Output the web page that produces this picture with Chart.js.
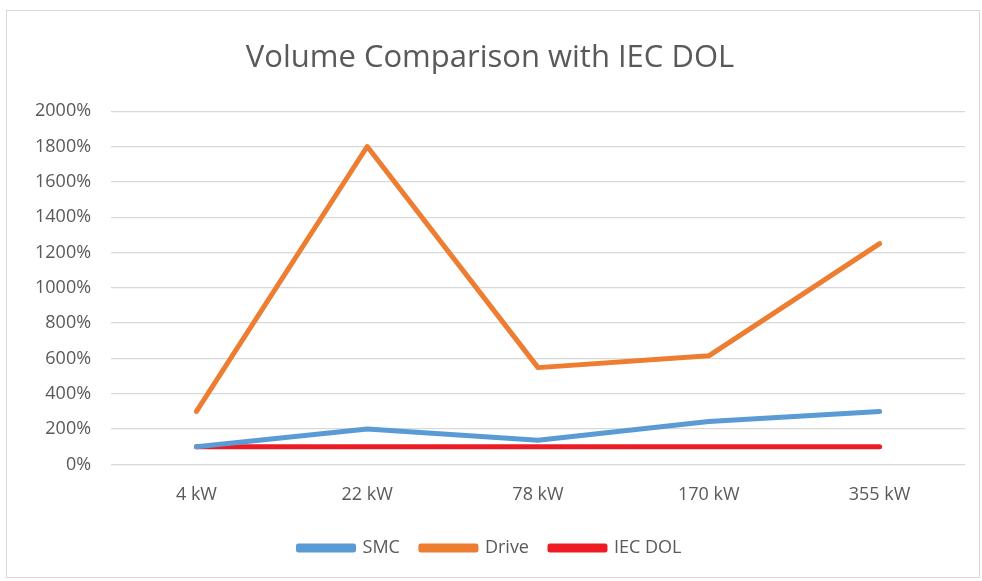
<!DOCTYPE html>
<html>
<head>
    <meta charset="UTF-8">
    <title>Volume Comparison with IEC DOL</title>
    <script src="https://cdn.jsdelivr.net/npm/chart.js"></script>
    <style>
        body { margin: 0; background: #fff; }
        #frame {
            position: absolute; left: 6px; top: 10px;
            width: 972px; height: 566px;
            border: 1px solid #d9d9d9;
        }
    </style>
</head>
<body>
    <div id="frame">
        <canvas id="volChart" width="972" height="566"></canvas>
    </div>
    <script>
        // categories and series (percent of IEC DOL volume)
        var categories = ['4 kW', '22 kW', '78 kW', '170 kW', '355 kW'];
        var smcValues = [100, 200, 137, 243, 300];
        var driveValues = [300, 1800, 548, 615, 1250];
        var dolValues = [100, 100, 100, 100, 100];
        var yTicks = [0, 200, 400, 600, 800, 1000, 1200, 1400, 1600, 1800, 2000];

        var fontFamily = "'Open Sans', 'Liberation Sans', sans-serif";
        var textColor = '#595959';

        function lineSet(label, data, color) {
            return {
                label: label,
                data: data,
                borderColor: color,
                backgroundColor: color,
                borderWidth: 5,
                pointRadius: 0,
                tension: 0,
                borderCapStyle: 'round',
                borderJoinStyle: 'round'
            };
        }

        var ctx = document.getElementById('volChart').getContext('2d');
        var volChart = new Chart(ctx, {
            type: 'line',
            data: {
                labels: categories,
                datasets: [
                    lineSet('SMC', smcValues, '#5b9bd5'),
                    lineSet('Drive', driveValues, '#ed7d31'),
                    lineSet('IEC DOL', dolValues, '#ed1c24')
                ]
            },
            options: {
                responsive: false,
                animation: false,
                layout: { padding: { left: 8, right: 14, top: 10, bottom: 10 } },
                plugins: {
                    title: {
                        display: true,
                        text: 'Volume Comparison with IEC DOL',
                        color: textColor,
                        font: { family: fontFamily, size: 31, weight: 'normal' },
                        padding: { top: 19, bottom: 34 }
                    },
                    legend: {
                        position: 'bottom',
                        labels: {
                            color: textColor,
                            font: { family: fontFamily, size: 18 },
                            boxWidth: 55,
                            boxHeight: 4,
                            padding: 21
                        }
                    },
                    tooltip: { enabled: false }
                },
                scales: {
                    x: {
                        offset: true,
                        grid: { display: false },
                        border: { display: false },
                        ticks: {
                            color: textColor,
                            font: { family: fontFamily, size: 18 },
                            padding: 12
                        }
                    },
                    y: {
                        min: 0,
                        max: 2000,
                        afterBuildTicks: function (axis) {
                            axis.ticks = yTicks.map(function (v) { return { value: v }; });
                        },
                        grid: { color: '#d9d9d9', lineWidth: 1.3, drawTicks: false },
                        border: { display: false },
                        ticks: {
                            color: textColor,
                            font: { family: fontFamily, size: 18 },
                            padding: 20,
                            callback: function (v) { return v + '%'; }
                        }
                    }
                }
            }
        });
    </script>
</body>
</html>
